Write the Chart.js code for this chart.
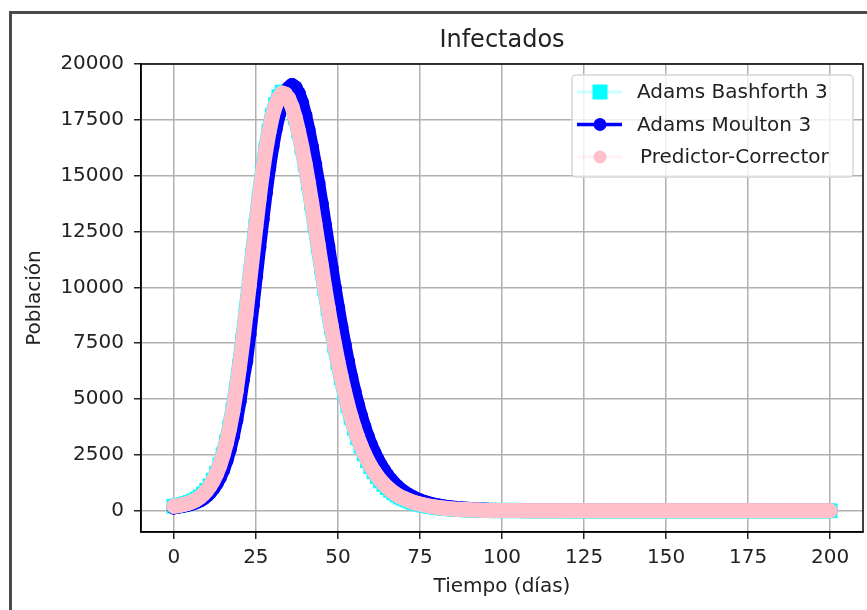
<!DOCTYPE html>
<html>
<head>
<meta charset="utf-8">
<script src="https://cdn.jsdelivr.net/npm/chart.js@4/dist/chart.umd.min.js"></script>
<style>
  html, body { margin: 0; padding: 0; background: #fff; }
  #wrap { position: relative; width: 867px; height: 610px; overflow: hidden; }
  #chart { position: absolute; left: 0; top: 0; }
  #frame {
    position: absolute; left: 9px; top: 11px; right: -10px; bottom: -10px;
    border-top: 3px solid #4a4a4a; border-left: 3px solid #4a4a4a;
    pointer-events: none;
  }
</style>
</head>
<body>
<div id="wrap">
  <canvas id="chart" width="867" height="610"></canvas>
  <div id="frame"></div>
</div>
<script>
// tiempo en días
const days = [
  0, 1, 2, 3, 4, 5, 6, 7, 8, 9,
  10, 11, 12, 13, 14, 15, 16, 17, 18, 19,
  20, 21, 22, 23, 24, 25, 26, 27, 28, 29,
  30, 31, 32, 33, 34, 35, 36, 37, 38, 39,
  40, 41, 42, 43, 44, 45, 46, 47, 48, 49,
  50, 51, 52, 53, 54, 55, 56, 57, 58, 59,
  60, 61, 62, 63, 64, 65, 66, 67, 68, 69,
  70, 71, 72, 73, 74, 75, 76, 77, 78, 79,
  80, 81, 82, 83, 84, 85, 86, 87, 88, 89,
  90, 91, 92, 93, 94, 95, 96, 97, 98, 99,
  100, 101, 102, 103, 104, 105, 106, 107, 108, 109,
  110, 111, 112, 113, 114, 115, 116, 117, 118, 119,
  120, 121, 122, 123, 124, 125, 126, 127, 128, 129,
  130, 131, 132, 133, 134, 135, 136, 137, 138, 139,
  140, 141, 142, 143, 144, 145, 146, 147, 148, 149,
  150, 151, 152, 153, 154, 155, 156, 157, 158, 159,
  160, 161, 162, 163, 164, 165, 166, 167, 168, 169,
  170, 171, 172, 173, 174, 175, 176, 177, 178, 179,
  180, 181, 182, 183, 184, 185, 186, 187, 188, 189,
  190, 191, 192, 193, 194, 195, 196, 197, 198, 199,
  200
];

// infectados por método
const adamsBashforth = [
  200, 220, 250, 285, 325, 375, 440, 520, 620, 750,
  915, 1115, 1370, 1670, 2050, 2510, 3060, 3720, 4500, 5400,
  6460, 7610, 8860, 10160, 11460, 12760, 14000, 15150, 16150, 16990,
  17690, 18190, 18540, 18740, 18690, 18480, 18120, 17610, 17000, 16290,
  15530, 14670, 13760, 12810, 11850, 10900, 9950, 9050, 8200, 7400,
  6650, 5950, 5300, 4700, 4180, 3700, 3270, 2890, 2550, 2240,
  1970, 1740, 1530, 1340, 1180, 1035, 910, 800, 700, 610,
  550, 485, 425, 375, 330, 292, 258, 227, 200, 176,
  155, 136, 119, 104, 92, 80, 70, 61, 54, 47,
  41, 36, 31, 27, 23, 20, 18, 15, 13, 11,
  10, 9, 8, 7, 6, 5, 4, 4, 3, 3,
  2, 2, 2, 2, 1, 1, 1, 1, 1, 1,
  0, 0, 0, 0, 0, 0, 0, 0, 0, 0,
  0, 0, 0, 0, 0, 0, 0, 0, 0, 0,
  0, 0, 0, 0, 0, 0, 0, 0, 0, 0,
  0, 0, 0, 0, 0, 0, 0, 0, 0, 0,
  0, 0, 0, 0, 0, 0, 0, 0, 0, 0,
  0, 0, 0, 0, 0, 0, 0, 0, 0, 0,
  0, 0, 0, 0, 0, 0, 0, 0, 0, 0,
  0, 0, 0, 0, 0, 0, 0, 0, 0, 0,
  0
];

const adamsMoulton = [
  150, 180, 210, 235, 265, 300, 345, 400, 470, 560,
  675, 820, 1000, 1225, 1500, 1835, 2250, 2750, 3350, 4065,
  4900, 5875, 6700, 7900, 9200, 10500, 11800, 13050, 14250, 15350,
  16300, 17100, 17750, 18250, 18650, 18920, 19050, 18950, 18680, 18270,
  17700, 17050, 16300, 15500, 14650, 13750, 12800, 11850, 10900, 9980,
  9080, 8230, 7430, 6680, 5990, 5350, 4770, 4240, 3760, 3330,
  2950, 2610, 2310, 2040, 1800, 1590, 1400, 1240, 1090, 960,
  850, 750, 660, 585, 515, 455, 400, 355, 313, 277,
  245, 217, 192, 170, 150, 133, 118, 104, 92, 82,
  72, 64, 57, 50, 44, 39, 35, 31, 27, 24,
  21, 19, 17, 15, 13, 11, 10, 9, 8, 7,
  6, 5, 5, 4, 4, 3, 3, 3, 2, 2,
  2, 2, 1, 1, 1, 1, 1, 1, 1, 1,
  0, 0, 0, 0, 0, 0, 0, 0, 0, 0,
  0, 0, 0, 0, 0, 0, 0, 0, 0, 0,
  0, 0, 0, 0, 0, 0, 0, 0, 0, 0,
  0, 0, 0, 0, 0, 0, 0, 0, 0, 0,
  0, 0, 0, 0, 0, 0, 0, 0, 0, 0,
  0, 0, 0, 0, 0, 0, 0, 0, 0, 0,
  0, 0, 0, 0, 0, 0, 0, 0, 0, 0,
  0
];

const predictorCorrector = [
  200, 220, 250, 280, 320, 370, 430, 510, 610, 740,
  900, 1100, 1350, 1650, 2020, 2480, 3020, 3680, 4450, 5350,
  6400, 7550, 8800, 10100, 11400, 12700, 13950, 15100, 16100, 16950,
  17650, 18150, 18500, 18700, 18650, 18450, 18100, 17600, 17000, 16300,
  15550, 14700, 13800, 12850, 11900, 10950, 10000, 9100, 8250, 7450,
  6700, 6000, 5350, 4750, 4220, 3740, 3310, 2920, 2580, 2270,
  2000, 1760, 1550, 1360, 1200, 1050, 925, 810, 710, 620,
  560, 495, 435, 385, 340, 300, 265, 233, 205, 180,
  158, 139, 122, 107, 94, 82, 72, 63, 55, 48,
  42, 37, 32, 28, 24, 21, 18, 16, 14, 12,
  10, 9, 8, 7, 6, 5, 4, 4, 3, 3,
  2, 2, 2, 2, 1, 1, 1, 1, 1, 1,
  0, 0, 0, 0, 0, 0, 0, 0, 0, 0,
  0, 0, 0, 0, 0, 0, 0, 0, 0, 0,
  0, 0, 0, 0, 0, 0, 0, 0, 0, 0,
  0, 0, 0, 0, 0, 0, 0, 0, 0, 0,
  0, 0, 0, 0, 0, 0, 0, 0, 0, 0,
  0, 0, 0, 0, 0, 0, 0, 0, 0, 0,
  0, 0, 0, 0, 0, 0, 0, 0, 0, 0,
  0, 0, 0, 0, 0, 0, 0, 0, 0, 0,
  0
];

const xTicks = [0, 25, 50, 75, 100, 125, 150, 175, 200];
const yTicks = [0, 2500, 5000, 7500, 10000, 12500, 15000, 17500, 20000];

const family = "'DejaVu Sans', sans-serif";
const textColor = "#222";

const toPoints = (values) => values.map((v, i) => ({ x: days[i], y: v }));

// ejes cerrados: bordes superior y derecho
const spines = {
  id: "spines",
  afterDatasetsDraw(chart) {
    const { ctx, chartArea: a } = chart;
    ctx.save();
    ctx.strokeStyle = "#000";
    ctx.lineWidth = 1.5;
    ctx.strokeRect(a.left, a.top, a.right - a.left, a.bottom - a.top);
    ctx.restore();
  },
};

// leyenda con línea y marcador, arriba a la derecha
const legendBox = {
  id: "legendBox",
  afterDraw(chart) {
    const { ctx, chartArea: a } = chart;
    const x0 = a.right - 291, y0 = a.top + 11, w = 281, h = 102;
    ctx.save();
    ctx.beginPath();
    ctx.roundRect(x0, y0, w, h, 4);
    ctx.fillStyle = "rgba(255,255,255,0.8)";
    ctx.fill();
    ctx.strokeStyle = "#d6d6d6";
    ctx.lineWidth = 1.5;
    ctx.stroke();

    chart.data.datasets.forEach((ds, row) => {
      const cy = y0 + 17 + row * 32.5;
      const cx = x0 + 28;
      ctx.beginPath();
      ctx.moveTo(x0 + 5, cy);
      ctx.lineTo(x0 + 50, cy);
      ctx.strokeStyle = ds.legendLineColor;
      ctx.lineWidth = ds.legendLineWidth;
      ctx.stroke();
      ctx.fillStyle = ds.pointBackgroundColor;
      if (ds.pointStyle === "rect") {
        ctx.fillRect(cx - 7.5, cy - 7.5, 15, 15);
      } else {
        ctx.beginPath();
        ctx.arc(cx, cy, 6.5, 0, Math.PI * 2);
        ctx.fill();
      }
      ctx.fillStyle = textColor;
      ctx.font = "20px " + family;
      ctx.textBaseline = "middle";
      ctx.textAlign = "left";
      ctx.fillText(ds.label, x0 + 65 + (row === 2 ? 3 : 0), cy + 1);
    });
    ctx.restore();
  },
};

new Chart(document.getElementById("chart"), {
  type: "line",
  data: {
    datasets: [
      {
        label: "Adams Bashforth 3",
        data: toPoints(adamsBashforth),
        order: 3,
        borderColor: "#00ffff",
        borderWidth: 15.5,
        borderCapStyle: "round",
        borderJoinStyle: "round",
        pointStyle: "rect",
        pointRadius: 10.4,
        pointBorderWidth: 0,
        pointBackgroundColor: "#00ffff",
        legendLineColor: "rgba(0,255,255,0.2)",
        legendLineWidth: 3,
      },
      {
        label: "Adams Moulton 3",
        data: toPoints(adamsMoulton),
        order: 2,
        borderColor: "#0000ff",
        borderWidth: 14,
        borderCapStyle: "round",
        borderJoinStyle: "round",
        pointStyle: "circle",
        pointRadius: 7.3,
        pointBorderWidth: 0,
        pointBackgroundColor: "#0000ff",
        legendLineColor: "#0000ff",
        legendLineWidth: 3.5,
      },
      {
        label: "Predictor-Corrector",
        data: toPoints(predictorCorrector),
        order: 1,
        borderColor: "#ffc0cb",
        borderWidth: 15,
        borderCapStyle: "round",
        borderJoinStyle: "round",
        pointStyle: "circle",
        pointRadius: 7.5,
        pointBorderWidth: 0,
        pointBackgroundColor: "#ffc0cb",
        legendLineColor: "rgba(255,192,203,0.2)",
        legendLineWidth: 3,
      },
    ],
  },
  options: {
    responsive: false,
    devicePixelRatio: 1,
    animation: false,
    layout: { autoPadding: false, padding: { left: 0, right: 4, top: 0, bottom: 0 } },
    plugins: {
      legend: { display: false },
      tooltip: { enabled: false },
      title: {
        display: true,
        fullSize: false,
        text: "Infectados",
        color: textColor,
        font: { family, size: 24, weight: "normal" },
        padding: { top: 26, bottom: 9.2 },
      },
    },
    scales: {
      x: {
        type: "linear",
        min: -10,
        max: 210,
        afterBuildTicks: (s) => { s.ticks = xTicks.map((v) => ({ value: v })); },
        afterFit: (s) => { s.height = 78; s.paddingLeft = 0; s.paddingRight = 0; },
        grid: { color: "#b0b0b0", lineWidth: 1.5, tickColor: "#222", tickWidth: 1.5, tickLength: 7 },
        border: { display: true, color: "#000", width: 1.5 },
        ticks: {
          color: textColor, font: { family, size: 20 }, padding: 7,
          maxRotation: 0, autoSkip: false, callback: (v) => String(v),
        },
        title: {
          display: true, text: "Tiempo (días)", color: textColor,
          font: { family, size: 20 }, padding: { top: 0, bottom: 11 },
        },
      },
      y: {
        type: "linear",
        min: -952,
        max: 20000,
        afterBuildTicks: (s) => { s.ticks = yTicks.map((v) => ({ value: v })); },
        afterFit: (s) => { s.width = 141; },
        grid: { color: "#b0b0b0", lineWidth: 1.5, tickColor: "#222", tickWidth: 1.5, tickLength: 7 },
        border: { display: true, color: "#000", width: 1.5 },
        ticks: {
          color: textColor, font: { family, size: 20 }, padding: 10,
          autoSkip: false, callback: (v) => String(v),
        },
        title: {
          display: true, text: "Población", color: textColor,
          font: { family, size: 20 }, padding: { top: 23, bottom: 0 },
        },
      },
    },
  },
  plugins: [spines, legendBox],
});
</script>
</body>
</html>
